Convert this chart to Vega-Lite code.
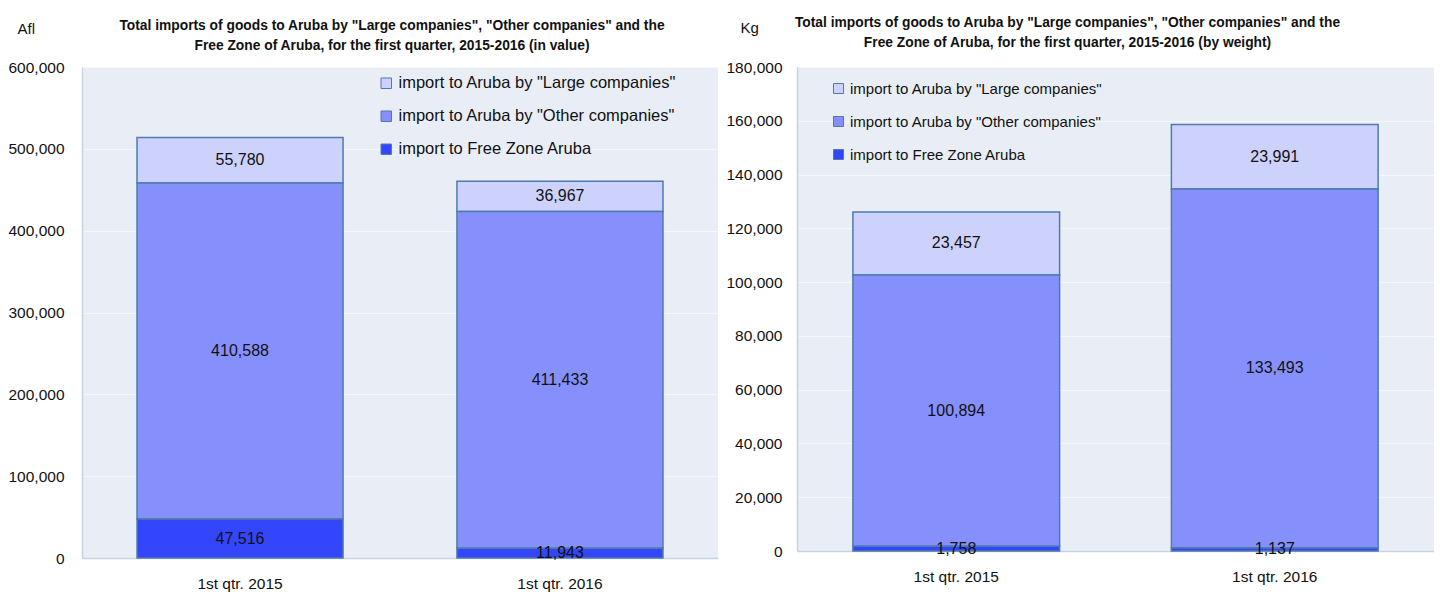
{
  "$schema": "https://vega.github.io/schema/vega-lite/v6.json",
  "padding": {"left": 7, "top": 16, "right": 0, "bottom": 0},
  "background": "white",
  "spacing": 7,
  "config": {
    "font": "Liberation Sans",
    "view": {"fill": "#e9eef6", "stroke": null},
    "axis": {"labelFont": "Liberation Sans", "labelFontSize": 15.5, "labelColor": "#111111", "titleFont": "Liberation Sans", "titleFontSize": 15, "titleFontWeight": "normal", "titleColor": "#111111"},
    "legend": {"labelFont": "Liberation Sans", "labelFontSize": 16.5, "labelColor": "#111111", "labelLimit": 0},
    "title": {"font": "Liberation Sans", "fontSize": 13.8, "fontWeight": "bold", "color": "#111111", "lineHeight": 20}
  },
  "datasets": {
    "value": [
      {"quarter": "1st qtr. 2015", "series": "import to Aruba by \"Large companies\"", "v": 55780},
      {"quarter": "1st qtr. 2015", "series": "import to Aruba by \"Other companies\"", "v": 410588},
      {"quarter": "1st qtr. 2015", "series": "import to Free Zone Aruba", "v": 47516},
      {"quarter": "1st qtr. 2016", "series": "import to Aruba by \"Large companies\"", "v": 36967},
      {"quarter": "1st qtr. 2016", "series": "import to Aruba by \"Other companies\"", "v": 411433},
      {"quarter": "1st qtr. 2016", "series": "import to Free Zone Aruba", "v": 11943}
    ],
    "weight": [
      {"quarter": "1st qtr. 2015", "series": "import to Aruba by \"Large companies\"", "v": 23457},
      {"quarter": "1st qtr. 2015", "series": "import to Aruba by \"Other companies\"", "v": 100894},
      {"quarter": "1st qtr. 2015", "series": "import to Free Zone Aruba", "v": 1758},
      {"quarter": "1st qtr. 2016", "series": "import to Aruba by \"Large companies\"", "v": 23991},
      {"quarter": "1st qtr. 2016", "series": "import to Aruba by \"Other companies\"", "v": 133493},
      {"quarter": "1st qtr. 2016", "series": "import to Free Zone Aruba", "v": 1137}
    ]
  },
  "hconcat": [
    {
      "width": 636,
      "height": 491,
      "data": {"name": "value"},
      "title": {"text": ["Total imports of goods to Aruba  by \"Large companies\", \"Other companies\" and the", "Free Zone of Aruba, for the first quarter,  2015-2016 (in value)"], "offset": -32, "dx": -8},
      "encoding": {
        "x": {"field": "quarter", "type": "nominal", "title": null, "scale": {"paddingInner": 0.356, "paddingOuter": 0.172},
              "axis": {"labelAngle": 0, "ticks": false, "labelPadding": 18, "domainColor": "#c6d3e3", "domainWidth": 1.5}},
        "order": {"field": "series", "sort": "descending"}
      },
      "layer": [
        {
          "mark": {"type": "bar", "stroke": "#4f7bab", "strokeWidth": 1.5},
          "encoding": {
            "y": {"field": "v", "type": "quantitative", "stack": "zero", "scale": {"domain": [0, 600000], "nice": false},
                  "axis": {"values": [0, 100000, 200000, 300000, 400000, 500000, 600000], "format": ",.0f", "ticks": false, "labelPadding": 18, "domainColor": "#c6d3e3", "domainWidth": 1.5, "gridColor": "#f4f7fb", "gridWidth": 1,
                           "title": "Afl", "titleAngle": 0, "titleAlign": "left", "titleBaseline": "middle", "titleX": -65, "titleY": -39}},
            "color": {"field": "series", "type": "nominal", "title": null,
                      "scale": {"domain": ["import to Aruba by \"Large companies\"", "import to Aruba by \"Other companies\"", "import to Free Zone Aruba"], "range": ["#cdd2fd", "#8690fd", "#3446fc"]},
                      "legend": {"orient": "none", "legendX": 296, "legendY": 8, "symbolType": "square", "symbolSize": 110, "symbolStrokeColor": "#4f7bab", "symbolStrokeWidth": 1, "rowPadding": 16, "labelOffset": 4}}
          }
        },
        {
          "mark": {"type": "text", "fontSize": 16, "color": "#111111", "baseline": "middle"},
          "encoding": {
            "y": {"field": "v", "type": "quantitative", "stack": "zero", "bandPosition": 0.5, "scale": {"domain": [0, 600000], "nice": false},
                  "axis": {"values": [0, 100000, 200000, 300000, 400000, 500000, 600000], "format": ",.0f", "ticks": false, "labelPadding": 18, "domainColor": "#c6d3e3", "domainWidth": 1.5, "gridColor": "#f4f7fb", "gridWidth": 1,
                           "title": "Afl", "titleAngle": 0, "titleAlign": "left", "titleBaseline": "middle", "titleX": -65, "titleY": -39}},
            "text": {"field": "v", "type": "quantitative", "format": ","}
          }
        }
      ]
    },
    {
      "width": 637,
      "height": 484,
      "data": {"name": "weight"},
      "title": {"text": ["Total imports of goods to Aruba  by \"Large companies\", \"Other companies\" and the", "Free Zone of Aruba, for the first quarter,  2015-2016 (by weight)"], "offset": -30, "dx": -48},
      "encoding": {
        "x": {"field": "quarter", "type": "nominal", "title": null, "scale": {"paddingInner": 0.351, "paddingOuter": 0.1755},
              "axis": {"labelAngle": 0, "ticks": false, "labelPadding": 18, "domainColor": "#c6d3e3", "domainWidth": 1.5}},
        "order": {"field": "series", "sort": "descending"}
      },
      "layer": [
        {
          "mark": {"type": "bar", "stroke": "#4f7bab", "strokeWidth": 1.5},
          "encoding": {
            "y": {"field": "v", "type": "quantitative", "stack": "zero", "scale": {"domain": [0, 180000], "nice": false},
                  "axis": {"values": [0, 20000, 40000, 60000, 80000, 100000, 120000, 140000, 160000, 180000], "format": ",.0f", "ticks": false, "labelPadding": 15, "domainColor": "#c6d3e3", "domainWidth": 1.5, "gridColor": "#f4f7fb", "gridWidth": 1,
                           "title": "Kg", "titleAngle": 0, "titleAlign": "left", "titleBaseline": "middle", "titleX": -57, "titleY": -40}},
            "color": {"field": "series", "type": "nominal", "title": null,
                      "scale": {"domain": ["import to Aruba by \"Large companies\"", "import to Aruba by \"Other companies\"", "import to Free Zone Aruba"], "range": ["#cdd2fd", "#8690fd", "#3446fc"]},
                      "legend": {"orient": "none", "legendX": 34, "legendY": 14, "symbolType": "square", "symbolSize": 100, "symbolStrokeColor": "#4f7bab", "symbolStrokeWidth": 1, "rowPadding": 17, "labelOffset": 4, "labelFontSize": 15}}
          }
        },
        {
          "mark": {"type": "text", "fontSize": 16, "color": "#111111", "baseline": "middle"},
          "encoding": {
            "y": {"field": "v", "type": "quantitative", "stack": "zero", "bandPosition": 0.5, "scale": {"domain": [0, 180000], "nice": false},
                  "axis": {"values": [0, 20000, 40000, 60000, 80000, 100000, 120000, 140000, 160000, 180000], "format": ",.0f", "ticks": false, "labelPadding": 15, "domainColor": "#c6d3e3", "domainWidth": 1.5, "gridColor": "#f4f7fb", "gridWidth": 1,
                           "title": "Kg", "titleAngle": 0, "titleAlign": "left", "titleBaseline": "middle", "titleX": -57, "titleY": -40}},
            "text": {"field": "v", "type": "quantitative", "format": ","}
          }
        }
      ]
    }
  ],
  "resolve": {"scale": {"color": "independent", "y": "independent"}, "legend": {"color": "independent"}}
}
